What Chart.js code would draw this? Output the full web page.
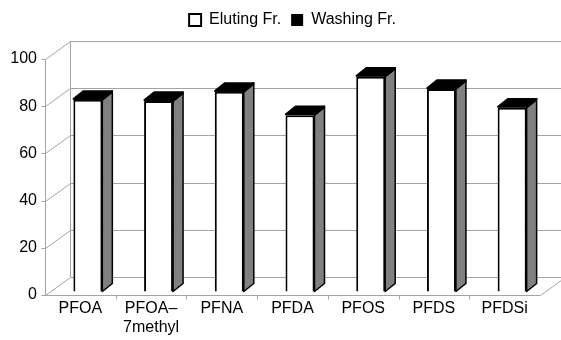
<!DOCTYPE html>
<html>
<head>
<meta charset="utf-8">
<script src="https://cdn.jsdelivr.net/npm/chart.js@4.4.1/dist/chart.umd.min.js"></script>
<style>
  html, body { margin: 0; padding: 0; background: #fff; }
  #wrap { width: 561px; height: 340px; }
</style>
</head>
<body>
<div id="wrap"><canvas id="chartRecuperacao"></canvas></div>
<script>
// recovery (%) per compound, eluting vs washing fraction
const categorias = ['PFOA', ['PFOA–', '7methyl'], 'PFNA', 'PFDA', 'PFOS', 'PFDS', 'PFDSi'];
const eluting = [81.2, 80.7, 84.6, 74.7, 91.0, 85.8, 77.9];
const washing = [0.4, 0.4, 0.4, 0.4, 0.4, 0.4, 0.4];
const yTicks = [0, 20, 40, 60, 80, 100];

// fake 3D (Excel look): wall depth, bar offset and bar depth, in px
const DEPTH_X = 25;
const DEPTH_Y = -18;
const BAR_SHIFT_X = 7.5;
const BAR_SHIFT_Y = -3.5;
const SIDE_X = 10;
const SIDE_Y = -8;
const sideColors = ['#808080', '#000000'];

Chart.defaults.font.family = "'Liberation Sans', Arial, sans-serif";
Chart.defaults.font.size = 16;
Chart.defaults.color = '#000';

// push the plot down under the legend
const legendMargin = {
  id: 'legendMargin',
  beforeInit(chart) {
    const fit = chart.legend.fit;
    chart.legend.fit = function () {
      fit.bind(chart.legend)();
      this.height += 21;
    };
  },
};

const moldura3d = {
  id: 'moldura3d',
  beforeDatasetsDraw(chart) {
    const { ctx, chartArea: area, scales: { x, y } } = chart;
    const left = Math.round(area.left) + 0.5;
    const right = Math.round(area.right) + 0.5;
    const bottom = Math.round(y.getPixelForValue(0)) + 0.5;
    const top = Math.round(y.getPixelForValue(100)) + 0.5;

    ctx.save();
    ctx.lineWidth = 1;
    ctx.strokeStyle = '#a4a4a4';
    ctx.beginPath();
    y.ticks.forEach((t) => {
      const py = Math.round(y.getPixelForValue(t.value)) + 0.5;
      ctx.moveTo(left + DEPTH_X, py + DEPTH_Y);
      ctx.lineTo(right + DEPTH_X, py + DEPTH_Y);
      ctx.moveTo(left, py);
      ctx.lineTo(left + DEPTH_X, py + DEPTH_Y);
      ctx.moveTo(left - 4, py);
      ctx.lineTo(left, py);
    });
    // back wall edge, front axis, floor
    ctx.moveTo(left + DEPTH_X, bottom + DEPTH_Y);
    ctx.lineTo(left + DEPTH_X, top + DEPTH_Y);
    ctx.moveTo(left, bottom);
    ctx.lineTo(left, top);
    ctx.moveTo(left, bottom);
    ctx.lineTo(right, bottom);
    ctx.lineTo(right + DEPTH_X, bottom + DEPTH_Y);
    for (let i = 1; i < categorias.length; i += 1) {
      const px = Math.round((x.getPixelForValue(i - 1) + x.getPixelForValue(i)) / 2) + 0.5;
      ctx.moveTo(px, bottom);
      ctx.lineTo(px, bottom + 4);
    }
    ctx.stroke();
    ctx.restore();

    ctx.save();
    ctx.translate(BAR_SHIFT_X, BAR_SHIFT_Y);
  },
  afterDatasetsDraw(chart) {
    const { ctx } = chart;
    const last = chart.data.datasets.length - 1;
    ctx.lineWidth = 1.5;
    ctx.lineJoin = 'round';
    ctx.strokeStyle = '#000';
    chart.data.datasets.forEach((ds, di) => {
      const meta = chart.getDatasetMeta(di);
      meta.data.forEach((bar) => {
        const { x, y, base, width } = bar.getProps(['x', 'y', 'base', 'width'], true);
        const l = x - width / 2;
        const r = x + width / 2;
        ctx.beginPath();
        ctx.moveTo(r, y);
        ctx.lineTo(r + SIDE_X, y + SIDE_Y);
        ctx.lineTo(r + SIDE_X, base + SIDE_Y);
        ctx.lineTo(r, base);
        ctx.closePath();
        ctx.fillStyle = sideColors[di];
        ctx.fill();
        ctx.stroke();
        if (di === last) {
          ctx.beginPath();
          ctx.moveTo(l, y);
          ctx.lineTo(l + SIDE_X, y + SIDE_Y);
          ctx.lineTo(r + SIDE_X, y + SIDE_Y);
          ctx.lineTo(r, y);
          ctx.closePath();
          ctx.fillStyle = '#000';
          ctx.fill();
          ctx.stroke();
        }
      });
    });
    ctx.restore();
  },
};

new Chart(document.getElementById('chartRecuperacao'), {
  type: 'bar',
  data: {
    labels: categorias,
    datasets: [
      {
        label: 'Eluting Fr.',
        data: eluting,
        backgroundColor: '#ffffff',
        borderColor: '#000000',
        borderWidth: 2,
        categoryPercentage: 1,
        barPercentage: 0.41,
        clip: false,
      },
      {
        label: 'Washing Fr.',
        data: washing,
        backgroundColor: '#000000',
        borderColor: '#000000',
        borderWidth: 0,
        categoryPercentage: 1,
        barPercentage: 0.41,
        clip: false,
      },
    ],
  },
  options: {
    responsive: true,
    maintainAspectRatio: false,
    animation: false,
    layout: { padding: { top: 2, left: 0, right: 21, bottom: 0 } },
    plugins: {
      tooltip: { enabled: false },
      legend: {
        position: 'top',
        fullSize: false,
        labels: {
          boxWidth: 12,
          boxHeight: 12,
          padding: 10,
          color: '#000',
          font: { size: 16 },
        },
      },
    },
    scales: {
      x: {
        stacked: true,
        grid: { display: false, drawTicks: false },
        border: { display: false },
        ticks: { autoSkip: false, maxRotation: 0, padding: 4, color: '#000' },
        afterFit: (scale) => { scale.height = 45; },
      },
      y: {
        stacked: true,
        min: 0,
        max: 100,
        grid: { display: false, drawTicks: false },
        border: { display: false },
        ticks: { padding: 8, color: '#000' },
        afterBuildTicks: (scale) => { scale.ticks = yTicks.map((v) => ({ value: v })); },
        afterFit: (scale) => { scale.width = 45; },
      },
    },
  },
  plugins: [legendMargin, moldura3d],
});
</script>
</body>
</html>
